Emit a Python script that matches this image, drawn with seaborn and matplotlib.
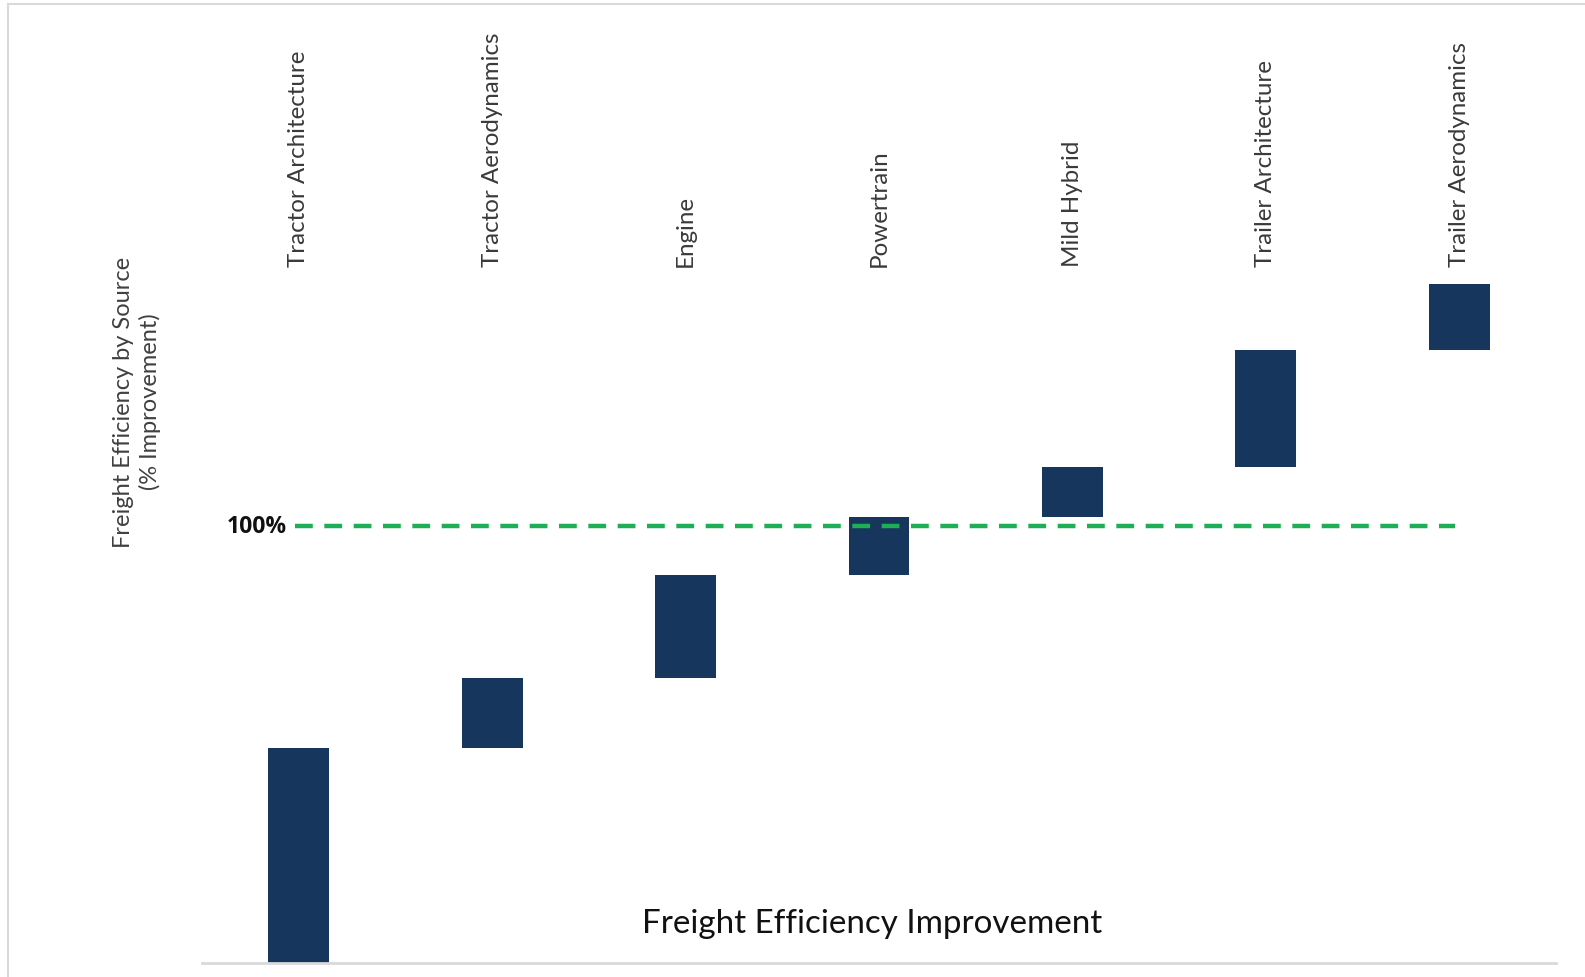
import matplotlib
matplotlib.use("Agg")
import matplotlib.pyplot as plt
from matplotlib.patches import Rectangle
import numpy as np
import pandas as pd
import seaborn as sns

# Contribution of each source to freight efficiency (% improvement)
categories = ["Tractor Architecture", "Tractor Aerodynamics", "Engine", "Powertrain",
              "Mild Hybrid", "Trailer Architecture", "Trailer Aerodynamics"]
increments = [49.2, 16.0, 23.6, 13.3, 11.4, 26.8, 15.1]
reference_level = 100
reference_label = "100%"

tops = np.cumsum(increments)
bottoms = tops - np.array(increments)
df = pd.DataFrame({"source": categories, "gain": increments})

sns.set_theme(style="white")
plt.rcParams["font.family"] = ["Lato", "DejaVu Sans"]

W, H = 1585, 978
fig = plt.figure(figsize=(W / 100, H / 100), dpi=100)
fig.patch.set_facecolor("white")

# axes box in pixels: left 202, right 1556, bottom 964 (from top), top 276
ax = fig.add_axes([202 / W, (H - 964) / H, (1556 - 202) / W, (964 - 276) / H])

sns.barplot(data=df, x="source", y="gain", bottom=bottoms, color="#17365D",
            saturation=1, width=0.315, ax=ax, edgecolor="none", zorder=2)

ax.set_xlim(-0.5, len(categories) - 0.5)
ax.set_ylim(0, 157.4)

# dashed reference line across the categories
ax.plot([-0.02, len(categories) - 1 - 0.02], [reference_level, reference_level],
        color="#1EAE55", lw=3.2, ls=(0, (4, 2.6)), zorder=3)
ax.text(-0.06, reference_level, reference_label, ha="right", va="center",
        fontsize=16.5, fontweight="bold", color="#111111",
        family=["Open Sans", "DejaVu Sans"])

# category names on top, rotated
ax.xaxis.tick_top()
ax.set_xticks(range(len(categories)))
ax.set_xticklabels(categories, rotation=90, fontsize=17.4, color="#3A3A3A")
ax.tick_params(axis="x", length=0, pad=6.5)
ax.set_yticks([])
ax.set_xlabel("")
ax.set_ylabel("")

for side in ["top", "left", "right"]:
    ax.spines[side].set_visible(False)
ax.spines["bottom"].set_color("#D9D9D9")
ax.spines["bottom"].set_linewidth(2)
ax.patch.set_alpha(0)

fig.text(872 / W, 1 - 924 / H, "Freight Efficiency Improvement", ha="center", va="center",
         fontsize=23.9, color="#111111")
fig.text(137 / W, 1 - 402 / H, "Freight Efficiency by Source\n(% Improvement)",
         ha="center", va="center", rotation=90, fontsize=17, color="#404040",
         linespacing=1.3)

# light frame around the figure
fig.patches.append(Rectangle((8 / W, -0.1), 1.2, 1 - 5 / H + 0.1, transform=fig.transFigure,
                             fill=False, edgecolor="#D9D9D9", lw=1.5, zorder=0))

fig.savefig("out.png", dpi=100)
